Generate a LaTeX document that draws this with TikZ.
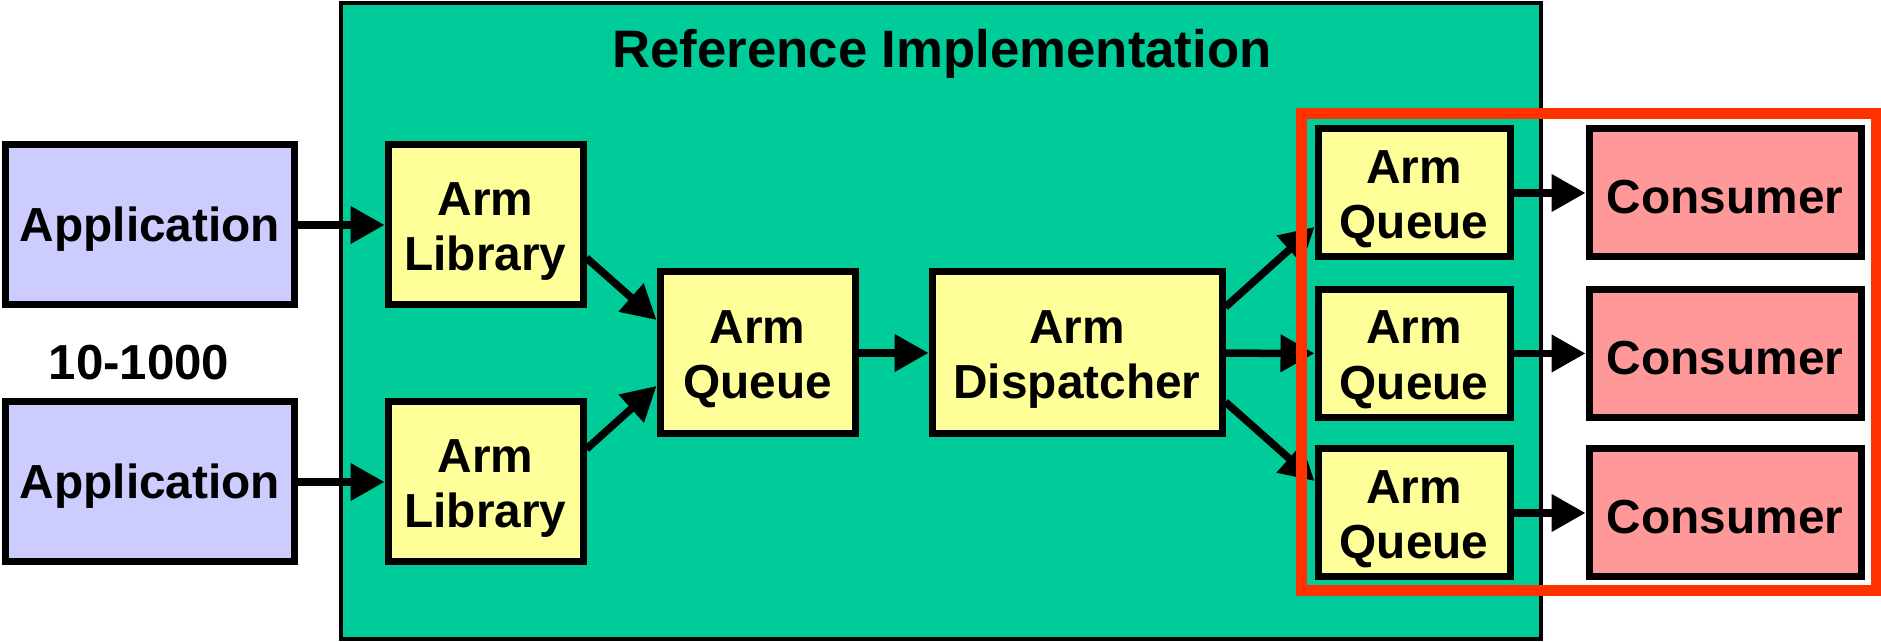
\documentclass[tikz,border=0pt]{standalone}
\usepackage{fontspec}
\setmainfont{Liberation Sans}
\usepackage{tikz}
\usetikzlibrary{arrows.meta}

\definecolor{refgreen}{HTML}{00CC99}
\definecolor{armyellow}{HTML}{FFFF99}
\definecolor{applilac}{HTML}{CCCCFF}
\definecolor{conspink}{HTML}{FF9999}
\definecolor{scopered}{HTML}{FF3300}

\newcommand{\armlabel}[1]{\raisebox{-2pt}[\height][\depth]{\begin{tabular}{@{}c@{}}Arm\\#1\end{tabular}}}

\begin{document}
\begin{tikzpicture}[>={Triangle[length=3.4mm,width=3.6mm]},
		blk/.style={draw, line width=0.7mm, inner sep=0pt, align=center,
			font=\fontsize{13.6}{15.8}\selectfont\bfseries,
			execute at begin node=\rule{0pt}{12pt}},
		armblk/.style={blk, fill=armyellow},
		flow/.style={line width=0.75mm, ->}]
		%\draw [help lines] (0,0) grid (19,7);
		\useasboundingbox (0,0) rectangle (18.81,6.42);
		\draw [fill=refgreen, line width=0.45mm] (3.41,0.03) rectangle (15.41,6.39);
		\node [anchor=base, font=\fontsize{15}{18}\selectfont\bfseries] (title) at (9.42,5.745) {Reference Implementation};
		\node [blk, fill=applilac, minimum width=2.88cm, minimum height=1.6cm] (app1) at (1.5,4.17) {Application};
		\node [blk, fill=applilac, minimum width=2.88cm, minimum height=1.6cm] (app2) at (1.5,1.6) {Application};
		\node [anchor=base, font=\fontsize{14}{16}\selectfont\bfseries] (count) at (1.39,2.62) {10-1000};
		\node [armblk, minimum width=1.95cm, minimum height=1.6cm] (lib1) at (4.855,4.17) {\armlabel{Library}};
		\node [armblk, minimum width=1.95cm, minimum height=1.6cm] (lib2) at (4.855,1.6) {\armlabel{Library}};
		\node [armblk, minimum width=1.95cm, minimum height=1.62cm] (queue) at (7.575,2.89) {\armlabel{Queue}};
		\node [armblk, minimum width=2.9cm, minimum height=1.62cm] (disp) at (10.77,2.89) {\armlabel{Dispatcher}};
		\node [armblk, minimum width=1.92cm, minimum height=1.28cm] (q1) at (14.14,4.49) {\armlabel{Queue}};
		\node [armblk, minimum width=1.92cm, minimum height=1.28cm] (q2) at (14.14,2.885) {\armlabel{Queue}};
		\node [armblk, minimum width=1.92cm, minimum height=1.28cm] (q3) at (14.14,1.29) {\armlabel{Queue}};
		\node [blk, fill=conspink, minimum width=2.72cm, minimum height=1.28cm] (c1) at (17.25,4.49) {Consumer};
		\node [blk, fill=conspink, minimum width=2.72cm, minimum height=1.28cm] (c2) at (17.25,2.885) {Consumer};
		\node [blk, fill=conspink, minimum width=2.72cm, minimum height=1.28cm] (c3) at (17.25,1.29) {Consumer};
		\draw [flow] (app1) -- (lib1);
		\draw [flow] (app2) -- (lib2);
		\draw [flow] ([yshift=-3.3mm]lib1.east) -- ([yshift=3.3mm]queue.west);
		\draw [flow] ([yshift=3.3mm]lib2.east) -- ([yshift=-3.3mm]queue.west);
		\draw [flow] (queue) -- (disp);
		\draw [flow] ([yshift=4.6mm]disp.east) -- ([yshift=-3.4mm]q1.west);
		\draw [flow] (disp) -- (q2);
		\draw [flow] ([yshift=-4.9mm]disp.east) -- ([yshift=3.2mm]q3.west);
		\foreach \i in {1,2,3}
			\draw [flow] (q\i) -- (c\i);
		\draw [scopered, line width=1.1mm] (13.015,0.51) rectangle (18.76,5.28);
	\end{tikzpicture}
\end{document}
